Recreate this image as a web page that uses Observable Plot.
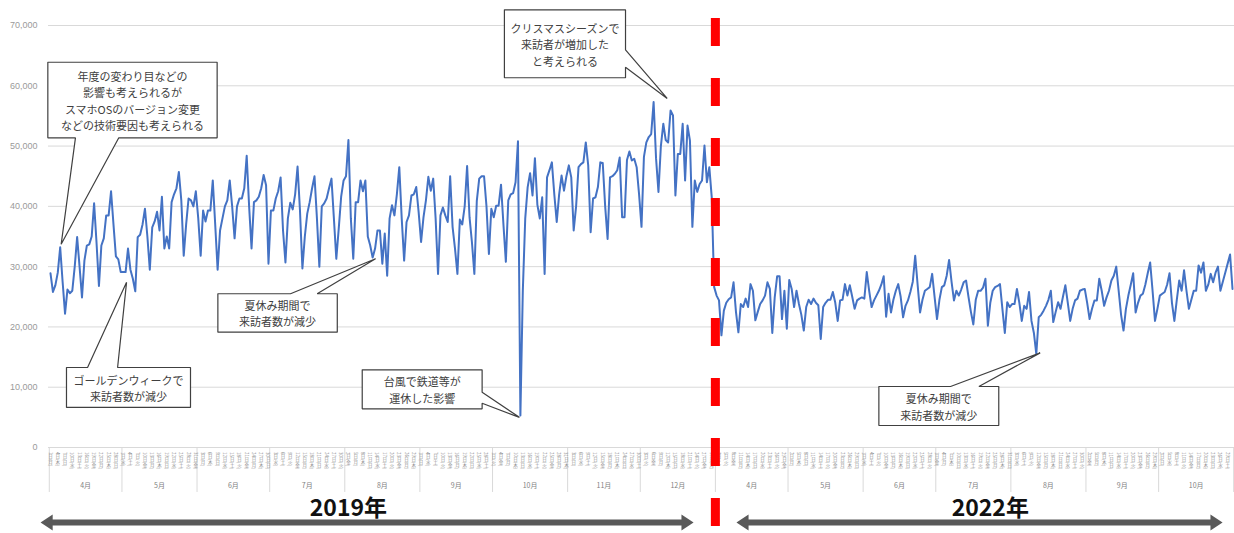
<!DOCTYPE html>
<html><head><meta charset="utf-8">
<script src="https://cdn.jsdelivr.net/npm/d3@7"></script>
<script src="https://cdn.jsdelivr.net/npm/@observablehq/plot@0.6"></script>
<style>
body{margin:0;background:#fff;}
#chart svg{display:block;}
</style></head><body><div id="chart"></div>
<script>
// ---- data: daily visitors, 2019-04-01 .. 2019-12-31 ----
const values2019 = [
28900,25800,26900,29000,33200,27500,22200,26200,25600,26000,30000,34900,30000,24900,31000,33500,33700,35000,40500,34000,26800,33500,34700,38500,38500,42500,37000,31700,31200,29100,
29100,29100,33000,29500,28000,25900,34900,35300,37000,39600,35000,29500,36500,37500,39100,36000,41600,33000,35000,33000,40700,42000,43000,45700,41000,31800,37000,41300,41000,40000,42500,
38000,31800,39300,37500,39300,39300,44300,37000,29500,36000,38000,40000,41000,44300,40000,34700,40000,41300,41300,43000,48400,40000,33000,40700,41000,41600,43000,45200,43500,30500,
39300,39300,41300,42500,44800,36000,30700,38000,40600,39500,42000,46600,39300,29700,35000,38800,40700,43000,45000,38000,30000,40000,40500,41300,43000,44600,38000,31300,36300,41600,44300,
45000,51000,38000,31300,40700,40700,44300,42500,44300,35000,33500,31500,33000,36000,36000,30500,35500,28500,38000,40200,38500,42000,46500,38000,31000,37400,38500,41800,42000,43200,39000,
34100,38200,41000,44900,42600,44600,38000,28800,38500,39800,38500,37400,45000,36600,33000,28800,37800,37000,40000,46700,38200,34000,28800,40900,44600,45000,45000,40000,32100,39600,
38200,40100,40100,43600,37000,30800,41000,42000,42200,44000,50800,5300,26000,38000,43200,45500,41800,48000,40300,38000,41500,28800,44800,46000,47300,42000,37400,42000,45100,42600,45000,
46800,44800,36000,40000,46500,47000,47300,50600,46800,35700,41300,41500,43200,47300,47200,40000,34600,44800,45000,45400,46000,48100,38200,38200,47700,49100,47600,47900,46500,42000,
36600,48200,50600,51500,52000,57300,48000,42400,50000,53700,51000,50600,55900,55100,41800,48700,48700,53700,44300,53400,50900,36600,44300,42400,43700,44300,50100,44000,46500,41500,26600
];
// ---- data: daily visitors, 2022-04-01 .. 2022-10-31 ----
const values2022 = [
25200,24400,18600,22700,24000,24600,24900,27400,22500,19100,23800,23300,24700,23300,27100,26000,21100,22500,23800,24400,25200,27400,26300,19000,24900,28400,28400,21300,26000,19700,
27800,26300,23300,26000,23800,22000,19400,23300,24500,23800,24700,24000,23600,18000,23300,24000,24500,24500,25800,24000,21000,24400,24500,27100,25200,26900,25000,23000,24400,24700,24900,
24700,29100,26000,23300,24400,25200,26000,27000,28400,21700,25500,22400,24500,26000,27100,25000,21600,23500,24400,25800,27500,31800,27000,22400,24500,26000,26300,26600,28800,25000,
21300,24500,26600,26900,28500,31100,27500,24400,26000,25200,26200,27400,27700,25000,22500,20400,24500,26000,26000,26500,28000,20200,24000,26000,26600,26800,27100,23000,19000,24100,23300,
23800,23800,26300,24000,21000,23500,23000,25800,21000,19000,15500,21600,22000,22700,23500,24500,26000,20800,22500,24100,23000,25000,26900,24000,21000,23000,24400,24700,26000,26200,26300,
24000,21300,23000,24400,24400,28000,26000,23500,24900,26000,27700,28500,30000,26000,22000,19400,23000,25200,27000,28900,22400,24000,25200,25500,27000,28900,30700,26000,21000,23000,
25200,25500,25800,27000,28900,24000,21000,24500,27700,26000,29400,26000,23000,24500,26000,26000,30200,29000,30700,26000,27000,28800,27400,29000,30000,26000,27500,29000,30500,32000,26300
];
const startDates = [new Date(2019, 3, 1), new Date(2022, 3, 1)];
const monthNames2019 = ["4月","5月","6月","7月","8月","9月","10月","11月","12月"];
const monthNames2022 = ["4月","5月","6月","7月","8月","9月","10月"];
const weekdayNames = ["日","月","火","水","木","金","土"];
const yTicks = [0,10000,20000,30000,40000,50000,60000,70000];
const yearLabels = ["2019年","2022年"];
const yearLabelPos = [123, 388];           // index positions of year captions
const arrowSpans = [[-4.1, 265.5], [283.2, 483.9]];

const callouts = [
  {lines:["年度の変わり目などの","影響も考えられるが","スマホOSのバージョン変更","などの技術要因も考えられる"],
   box:[-1.1, 68.8, 63900, 51370], side:"bottom", a:10.3, b:28.2, tip:[4.4, 33700]},
  {lines:["クリスマスシーズンで","来訪者が増加した","と考えられる"],
   box:[187.4, 237.4, 72600, 61330], side:"right", a:65970, b:63090, tip:[254.6, 57900]},
  {lines:["夏休み期間で","来訪者数が減少"],
   box:[69.1, 118.4, 25500, 19130], side:"top", a:99.1, b:110.1, tip:[134.2, 31300]},
  {lines:["ゴールデンウィークで","来訪者数が減少"],
   box:[6.6, 57.8, 13270, 6640], side:"top", a:15.3, b:27.7, tip:[31.4, 27400]},
  {lines:["台風で鉄道等が","運休した影響"],
   box:[128.7, 178.2, 12890, 6420], side:"right", a:9170, b:7350, tip:[193.6, 5000]},
  {lines:["夏休み期間で","来訪者数が減少"],
   box:[342, 391.5, 10120, 3650], side:"top", a:371.6, b:383.3, tip:[408.6, 15700]}
];

// ---- build tables ----
const rows = [];
[values2019, values2022].forEach((vals, s) => {
  vals.forEach((v, k) => {
    const date = new Date(startDates[s].getFullYear(), startDates[s].getMonth(), startDates[s].getDate() + k);
    rows.push({i: rows.length, date, v});
  });
});
const dayLabels = rows.filter(d => d.i % 3 === 0)
  .map(d => ({i: d.i, label: `${d.date.getDate()}日(${weekdayNames[d.date.getDay()]})`}));

const monthGroups = d3.groups(rows, d => d.date.getFullYear() * 100 + d.date.getMonth());
const monthNames = monthNames2019.concat(monthNames2022);
const months = monthGroups.map(([key, g], k) => ({
  start: g[0].i - 0.5, end: g[g.length - 1].i + 0.5,
  center: (g[0].i + g[g.length - 1].i) / 2, label: monthNames[k]
}));
const monthBounds = Array.from(new Set(months.flatMap(m => [m.start, m.end])));
const splitIndex = values2019.length - 0.5;

// below-axis layout, in y-scale units (axis is linear so it extends below 0)
const BELOW = {dayTop: -500, monthText: -6300, sepEnd: -7460, yearText: -10100, arrow: -12440, bottom: -14300, top: 71160};

// callout polygons
const bubblePts = [];
callouts.forEach((c, id) => {
  const [x1, x2, yt, yb] = c.box;
  let p = [[x1, yt]];
  if (c.side === "top") p.push([c.a, yt], c.tip, [c.b, yt]);
  p.push([x2, yt]);
  if (c.side === "right") p.push([x2, c.a], c.tip, [x2, c.b]);
  p.push([x2, yb]);
  if (c.side === "bottom") p.push([c.b, yb], c.tip, [c.a, yb]);
  p.push([x1, yb], [x1, yt]);
  p.forEach(([x, y]) => bubblePts.push({id, x, y}));
});
const calloutText = callouts.map(c => ({x: (c.box[0] + c.box[1]) / 2, y: (c.box[2] + c.box[3]) / 2, text: c.lines.join("\n")}));

// arrows
const HEAD = 5, HEADH = 1330, SHAFT = 500, C = BELOW.arrow;
const arrowPts = [];
arrowSpans.forEach(([f, t], id) => {
  [[f, C], [f + HEAD, C + HEADH], [f + HEAD, C + SHAFT], [t - HEAD, C + SHAFT], [t - HEAD, C + HEADH], [t, C],
   [t - HEAD, C - HEADH], [t - HEAD, C - SHAFT], [f + HEAD, C - SHAFT], [f + HEAD, C - HEADH], [f, C]]
   .forEach(([x, y]) => arrowPts.push({id, x, y}));
});

const font = "'Noto Sans CJK JP', 'Noto Sans', sans-serif";
const plot = Plot.plot({
  width: 1234, height: 533,
  marginTop: 25, marginBottom: 86, marginLeft: 48, marginRight: 0,
  style: {fontFamily: font, background: "#fff", overflow: "visible"},
  x: {type: "linear", domain: [0, 488], range: [50, 1232], axis: null},
  y: {domain: [0, 70000], axis: null},
  marks: [
    Plot.ruleY(yTicks, {stroke: "#d9d9d9", strokeWidth: 1}),
    Plot.text(yTicks, {y: d => d, text: d3.format(","), frameAnchor: "left", textAnchor: "end", dx: -11, fontSize: 9, fill: "#9a9a9a", fontFamily: "'Liberation Sans', Arial, sans-serif"}),
    Plot.ruleX(monthBounds, {x: d => d, y1: 0, y2: BELOW.sepEnd, stroke: "#d9d9d9", strokeWidth: 1}),
    Plot.text(dayLabels, {x: "i", y: BELOW.dayTop, text: "label", textAnchor: "start", fontSize: 4.5, fill: "#8c8c8c"}),
    Plot.text(months, {x: "center", y: BELOW.monthText, text: "label", fontSize: 7, fill: "#7f7f7f"}),
    Plot.line(rows, {x: "i", y: "v", stroke: "#4472C4", strokeWidth: 2, curve: "linear"}),
    Plot.ruleX([splitIndex], {y1: BELOW.top, y2: BELOW.bottom, stroke: "#ff0000", strokeWidth: 9, strokeDasharray: "28 32", strokeLinecap: "butt"}),
    Plot.line(bubblePts, {x: "x", y: "y", z: "id", fill: "white", stroke: "#404040", strokeWidth: 1.2, strokeLinejoin: "miter", curve: "linear"}),
    Plot.text(calloutText, {x: "x", y: "y", text: "text", fontSize: 11, lineHeight: 1.5, fill: "#404040"}),
    Plot.line(arrowPts, {x: "x", y: "y", z: "id", fill: "#595959", stroke: "none", curve: "linear"}),
    Plot.text(yearLabels, {x: (d, k) => yearLabelPos[k], y: BELOW.yearText, text: d => d, fontSize: 23, fontWeight: "bold", fill: "#111"})
  ]
});
plot.querySelectorAll("text").forEach(t => {
  if (/^\d+日\(/.test(t.textContent)) {
    t.setAttribute("writing-mode", "vertical-rl");
    t.removeAttribute("dy");
  }
});
document.getElementById("chart").appendChild(plot);
</script></body></html>
